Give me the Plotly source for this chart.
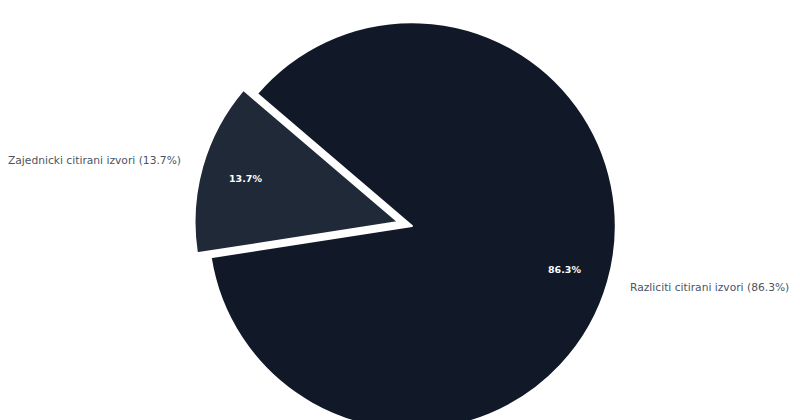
import math

import plotly.graph_objects as go

# data
labels = ["Razliciti citirani izvori", "Zajednicki citirani izvori"]
shares = [86.3, 13.7]
colors = ["#111827", "#1f2937"]
pulls = [0, 0.07]

# page body adds an 8px margin, so the figure is a bit narrower than the window
W, H = 792, 436
DOM_X = [0.0202, 1.0]
DOM_Y = [0.0, 1.0]
START = 310.5  # degrees clockwise from 12 o'clock
LABEL_DIST = 1.1
PCT_DIST = 0.78

fig = go.Figure(go.Pie(
    labels=labels,
    values=shares,
    sort=False,
    direction="clockwise",
    rotation=START,
    pull=pulls,
    marker=dict(colors=colors, line=dict(color="white", width=2)),
    textinfo="none",
    hoverinfo="label+percent",
    showlegend=False,
    domain=dict(x=DOM_X, y=DOM_Y),
))

# pie geometry as plotly lays it out (margins are zero)
pw = W * (DOM_X[1] - DOM_X[0])
ph = H * (DOM_Y[1] - DOM_Y[0])
r = min(pw, ph) / (2 + 2 * max(pulls))
cx = W * (DOM_X[0] + DOM_X[1]) / 2
cy = H * (2 - DOM_Y[0] - DOM_Y[1]) / 2

total = sum(shares)
angle = START
annotations = []
for lab, val, pull in zip(labels, shares, pulls):
    span = 360 * val / total
    mid = math.radians(angle + span / 2)
    dx, dy = math.sin(mid), -math.cos(mid)
    ox, oy = cx + pull * r * dx, cy + pull * r * dy
    pct = f"{100 * val / total:.1f}%"
    lx, ly = ox + LABEL_DIST * r * dx, oy + LABEL_DIST * r * dy
    annotations.append(dict(
        x=lx / W, y=1 - ly / H, xref="paper", yref="paper",
        text=f"{lab} ({pct})", showarrow=False,
        xanchor="left" if dx > 0 else "right", yanchor="middle",
        font=dict(family="DejaVu Sans", size=10.7, color="#4b5563"),
    ))
    px, py = ox + PCT_DIST * r * dx, oy + PCT_DIST * r * dy
    annotations.append(dict(
        x=px / W, y=1 - py / H, xref="paper", yref="paper",
        text=f"<b>{pct}</b>", showarrow=False,
        xanchor="center", yanchor="middle",
        font=dict(family="DejaVu Sans", size=9.5, color="white"),
    ))
    angle += span

fig.update_layout(
    width=W,
    height=H,
    margin=dict(l=0, r=0, t=0, b=0),
    paper_bgcolor="white",
    plot_bgcolor="white",
    annotations=annotations,
    font=dict(family="DejaVu Sans"),
)

fig.write_html("out.html")
